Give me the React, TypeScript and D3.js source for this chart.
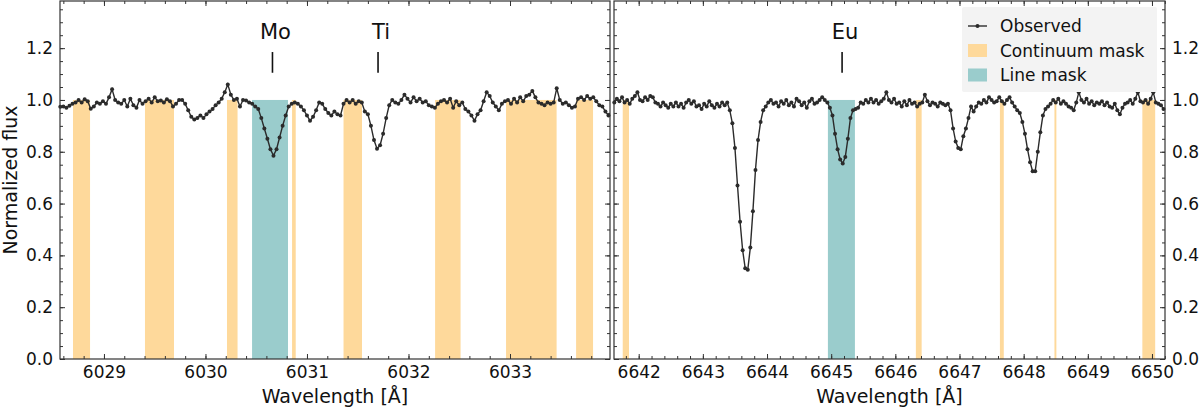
import React, { useEffect, useRef } from 'react'
import { select, scaleLinear, axisBottom, axisTop, axisLeft, axisRight, line, range } from 'd3'

// spectra (regular wavelength grid, flux)
const leftStart = 6028.57
const leftStep = 0.03
const leftFlux = [
  0.974, 0.975, 0.97, 0.978, 0.985, 0.99, 1.0, 0.99, 1.003, 0.995,
  0.966, 0.975, 0.99, 0.985, 0.995, 0.985, 1.01, 1.041, 1.0, 0.99,
  0.985, 1.0, 0.975, 1.005, 0.98, 0.97, 1.0, 0.985, 0.995, 1.005,
  0.99, 1.01, 0.995, 0.998, 0.99, 1.003, 0.995, 0.975, 0.985, 1.0,
  1.0, 0.985, 0.96, 0.935, 0.925, 0.93, 0.94, 0.93, 0.945, 0.955,
  0.965, 0.98, 0.99, 1.005, 1.03, 1.06, 1.02, 1.0, 1.005, 0.975,
  1.0, 0.998, 0.99, 0.985, 0.975, 0.965, 0.93, 0.89, 0.85, 0.81,
  0.785, 0.81, 0.855, 0.9, 0.94, 0.975, 0.985, 0.99, 0.985, 0.975,
  0.96, 0.94, 0.92, 0.935, 0.96, 0.99, 0.985, 0.965, 0.95, 0.94,
  0.955, 0.945, 0.94, 0.985, 1.0, 0.99, 1.0, 0.985, 0.995, 0.99,
  0.955, 0.945, 0.9, 0.845, 0.812, 0.825, 0.87, 0.93, 0.98, 1.0,
  0.99, 0.985, 1.0, 1.02, 1.005, 0.99, 1.01, 0.995, 1.005, 0.99,
  0.995, 0.98, 0.975, 0.97, 0.985, 0.995, 1.0, 0.99, 1.005, 0.97,
  0.995, 0.98, 0.99, 0.965, 0.955, 0.94, 0.92, 0.945, 0.96, 0.995,
  1.03, 1.015, 0.99, 0.975, 0.96, 0.985, 0.995, 1.0, 0.985, 1.005,
  0.99, 1.01, 0.995, 1.015, 1.02, 1.035, 1.01, 0.99, 0.985, 0.98,
  0.99, 0.985, 0.99, 1.045, 1.0, 0.985, 0.99, 0.98, 0.97, 0.975,
  1.005, 1.01, 1.0, 1.015, 1.005, 1.01, 0.995, 0.98, 0.975, 0.955,
  0.94,
]

const rightStart = 6641.62
const rightStep = 0.04
const rightFlux = [
  0.99, 1.005, 0.995, 1.01, 0.99, 1.0, 0.985, 1.005, 1.015, 1.03,
  1.0, 0.995, 1.01, 1.0, 1.015, 1.01, 0.99, 0.985, 0.975, 0.99,
  0.98, 0.97, 0.985, 0.975, 0.99, 0.975, 0.985, 0.97, 0.99, 1.0,
  0.985, 0.995, 0.975, 0.98, 0.965, 0.985, 0.975, 0.995, 0.98, 0.97,
  0.985, 0.975, 0.99, 0.98, 0.99, 0.96, 0.91, 0.815, 0.67, 0.53,
  0.42, 0.35, 0.345, 0.43, 0.57, 0.73, 0.845, 0.915, 0.96, 0.975,
  0.99, 1.0, 0.985, 0.99, 0.975, 0.995, 0.985, 1.0, 0.98, 0.99,
  0.975, 1.005, 0.995, 0.98, 0.99, 0.97, 0.995, 1.005, 0.985, 0.99,
  1.0, 1.01, 1.0, 0.99, 0.97, 0.94, 0.87, 0.81, 0.77, 0.755,
  0.78, 0.85, 0.93, 0.96, 0.965, 0.97, 0.99, 0.985, 1.0, 0.99,
  1.005, 0.99, 1.0, 0.985, 0.995, 1.005, 1.03, 1.0, 0.99, 1.005,
  0.985, 0.99, 0.975, 0.995, 0.98, 1.0, 0.985, 0.99, 0.975, 0.985,
  0.99, 1.02, 0.995, 0.98, 0.99, 0.985, 0.975, 0.99, 0.985, 0.98,
  0.985, 0.96, 0.89, 0.84, 0.815, 0.81, 0.86, 0.89, 0.93, 0.975,
  0.955, 0.975, 0.99, 0.985, 1.0, 0.99, 1.01, 1.0, 0.99, 0.995,
  1.01, 0.995, 0.985, 1.0, 1.01, 0.99, 0.975, 0.96, 0.95, 0.915,
  0.87, 0.81, 0.76, 0.725, 0.725, 0.8, 0.875, 0.94, 0.965, 0.975,
  0.985, 1.0, 0.99, 1.005, 0.985, 0.995, 0.985, 0.975, 0.97, 0.96,
  0.99, 1.03, 1.0, 0.99, 1.005, 0.985, 0.995, 0.98, 0.99, 0.985,
  0.995, 0.98, 0.99, 0.975, 0.97, 0.985, 0.96, 0.945, 0.97, 0.985,
  0.99, 1.0, 0.985, 1.005, 1.03, 0.995, 0.99, 1.0, 0.985, 1.005,
  1.03, 0.99, 0.985, 0.98, 0.965,
]

// masks [from, to] in Angstrom
const leftContinuum = [
  [6028.695, 6028.863], [6029.404, 6029.69], [6030.212, 6030.316], [6030.853, 6030.889],
  [6031.36, 6031.542], [6032.262, 6032.513], [6032.961, 6033.459], [6033.651, 6033.818],
]
const leftLineMask = [[6030.459, 6030.813]]
const rightContinuum = [
  [6641.751, 6641.849], [6646.32, 6646.41], [6647.63, 6647.69], [6648.48, 6648.51], [6649.85, 6650.05],
]
const rightLineMask = [[6644.949, 6645.37]]

const leftLines = [{ label: 'Mo', wave: 6030.66 }, { label: 'Ti', wave: 6031.7 }]
const rightLines = [{ label: 'Eu', wave: 6645.17 }]

const leftDomain = [6028.567, 6033.985]
const rightDomain = [6641.615, 6650.203]
const leftTicks = [6029, 6030, 6031, 6032, 6033]
const rightTicks = [6642, 6643, 6644, 6645, 6646, 6647, 6648, 6649, 6650]
const yTicks = [0, 0.2, 0.4, 0.6, 0.8, 1.0, 1.2]
const yDomain = [0, 1.382]
const legendLabels = ['Observed', 'Continuum mask', 'Line mask']

const FONT = "'DejaVu Sans', sans-serif"
const orange = '#fed99b'
const teal = '#9acccc'
const ink = '#2b2b2b'

const top = 1
const bottom = 359

function drawPanel(svg, cfg) {
  const x = scaleLinear().domain(cfg.domain).range([cfg.left, cfg.right])
  const y = scaleLinear().domain(yDomain).range([bottom, top])
  const g = svg.append('g')

  g.selectAll('.cont').data(cfg.continuum).join('rect')
    .attr('class', 'cont')
    .attr('x', d => x(d[0])).attr('width', d => x(d[1]) - x(d[0]))
    .attr('y', y(1)).attr('height', y(0) - y(1))
    .attr('fill', orange)
  g.selectAll('.lmask').data(cfg.lineMask).join('rect')
    .attr('class', 'lmask')
    .attr('x', d => x(d[0])).attr('width', d => x(d[1]) - x(d[0]))
    .attr('y', y(1)).attr('height', y(0) - y(1))
    .attr('fill', teal)

  const pts = cfg.flux.map((f, i) => [cfg.start + i * cfg.step, f])
  g.append('path').datum(pts)
    .attr('d', line().x(d => x(d[0])).y(d => y(d[1])))
    .attr('fill', 'none').attr('stroke', ink).attr('stroke-width', 1.4)
  g.selectAll('.pt').data(pts).join('circle')
    .attr('class', 'pt')
    .attr('cx', d => x(d[0])).attr('cy', d => y(d[1])).attr('r', 2)
    .attr('fill', ink)

  // axes, ticks pointing inward
  const minorX = range(Math.ceil(cfg.domain[0] * 5), Math.floor(cfg.domain[1] * 5) + 1).map(v => v / 5)
  const minorY = range(0, 28).map(v => v * 0.05)
  const styleAxis = (sel) => {
    sel.select('.domain').remove()
    sel.selectAll('line').attr('stroke', '#333')
    sel.selectAll('text').attr('font-family', FONT).attr('font-size', 17).attr('fill', '#111')
  }
  const none = () => ''

  g.append('g').attr('transform', `translate(0,${bottom})`)
    .call(axisBottom(x).tickValues(minorX).tickSize(-3).tickFormat(none)).call(styleAxis)
  g.append('g').attr('transform', `translate(0,${bottom})`)
    .call(axisBottom(x).tickValues(cfg.ticks).tickSize(-5).tickPadding(7).tickFormat(d => String(d))).call(styleAxis)
  g.append('g').attr('transform', `translate(0,${top})`)
    .call(axisTop(x).tickValues(minorX).tickSize(-3).tickFormat(none)).call(styleAxis)
  g.append('g').attr('transform', `translate(0,${top})`)
    .call(axisTop(x).tickValues(cfg.ticks).tickSize(-5).tickFormat(none)).call(styleAxis)

  const fmtY = (d) => d.toFixed(1)
  g.append('g').attr('transform', `translate(${cfg.left},0)`)
    .call(axisLeft(y).tickValues(minorY).tickSize(-3).tickFormat(none)).call(styleAxis)
  g.append('g').attr('transform', `translate(${cfg.left},0)`)
    .call(axisLeft(y).tickValues(yTicks).tickSize(-5).tickPadding(7).tickFormat(cfg.labelsLeft ? fmtY : none)).call(styleAxis)
  g.append('g').attr('transform', `translate(${cfg.right},0)`)
    .call(axisRight(y).tickValues(minorY).tickSize(-3).tickFormat(none)).call(styleAxis)
  g.append('g').attr('transform', `translate(${cfg.right},0)`)
    .call(axisRight(y).tickValues(yTicks).tickSize(-5).tickPadding(7).tickFormat(cfg.labelsLeft ? none : fmtY)).call(styleAxis)

  g.append('rect')
    .attr('x', cfg.left).attr('y', top).attr('width', cfg.right - cfg.left).attr('height', bottom - top)
    .attr('fill', 'none').attr('stroke', '#333').attr('stroke-width', 1.2)

  // element labels
  g.selectAll('.elem').data(cfg.lines).join('text')
    .attr('class', 'elem')
    .attr('x', d => x(d.wave) + 3).attr('y', y(1.235))
    .attr('text-anchor', 'middle')
    .attr('font-family', FONT).attr('font-size', 21).attr('fill', '#111')
    .text(d => d.label)
  g.selectAll('.tick-mark').data(cfg.lines).join('line')
    .attr('class', 'tick-mark')
    .attr('x1', d => x(d.wave)).attr('x2', d => x(d.wave))
    .attr('y1', y(1.185)).attr('y2', y(1.105))
    .attr('stroke', '#111').attr('stroke-width', 1.6)

  g.append('text')
    .attr('x', (cfg.left + cfg.right) / 2).attr('y', 403)
    .attr('text-anchor', 'middle')
    .attr('font-family', FONT).attr('font-size', 19).attr('fill', '#111')
    .text('Wavelength [Å]')
}

export default function App() {
  const ref = useRef(null)

  useEffect(() => {
    const svg = select(ref.current)
    svg.selectAll('*').remove()

    drawPanel(svg, {
      left: 60, right: 610, domain: leftDomain, ticks: leftTicks,
      start: leftStart, step: leftStep, flux: leftFlux,
      continuum: leftContinuum, lineMask: leftLineMask, lines: leftLines, labelsLeft: true,
    })
    drawPanel(svg, {
      left: 614, right: 1165, domain: rightDomain, ticks: rightTicks,
      start: rightStart, step: rightStep, flux: rightFlux,
      continuum: rightContinuum, lineMask: rightLineMask, lines: rightLines, labelsLeft: false,
    })

    svg.append('text')
      .attr('transform', `translate(17,${(top + bottom) / 2}) rotate(-90)`)
      .attr('text-anchor', 'middle')
      .attr('font-family', FONT).attr('font-size', 19).attr('fill', '#111')
      .text('Normalized flux')

    // legend
    const legend = svg.append('g').attr('transform', 'translate(962,7)')
    legend.append('rect').attr('width', 195).attr('height', 85).attr('rx', 2)
      .attr('fill', '#f3f3f3')
    const rows = legend.selectAll('.row').data(legendLabels).join('g')
      .attr('class', 'row')
      .attr('transform', (d, i) => `translate(0,${19 + i * 24.5})`)
    rows.filter((d, i) => i === 0).append('line')
      .attr('x1', 6).attr('x2', 25).attr('stroke', ink).attr('stroke-width', 1.4)
    rows.filter((d, i) => i === 0).append('circle')
      .attr('cx', 15.5).attr('r', 2).attr('fill', ink)
    rows.filter((d, i) => i > 0).append('rect')
      .attr('x', 6).attr('y', -6.5).attr('width', 19).attr('height', 13)
      .attr('fill', (d, i) => (i === 0 ? orange : teal))
    rows.append('text')
      .attr('x', 38).attr('y', 6)
      .attr('font-family', FONT).attr('font-size', 17).attr('fill', '#111')
      .text(d => d)
  }, [])

  return (
    <svg ref={ref} width={1200} height={410}
      style={{ position: 'absolute', left: 0, top: 0, background: '#fff' }} />
  )
}
